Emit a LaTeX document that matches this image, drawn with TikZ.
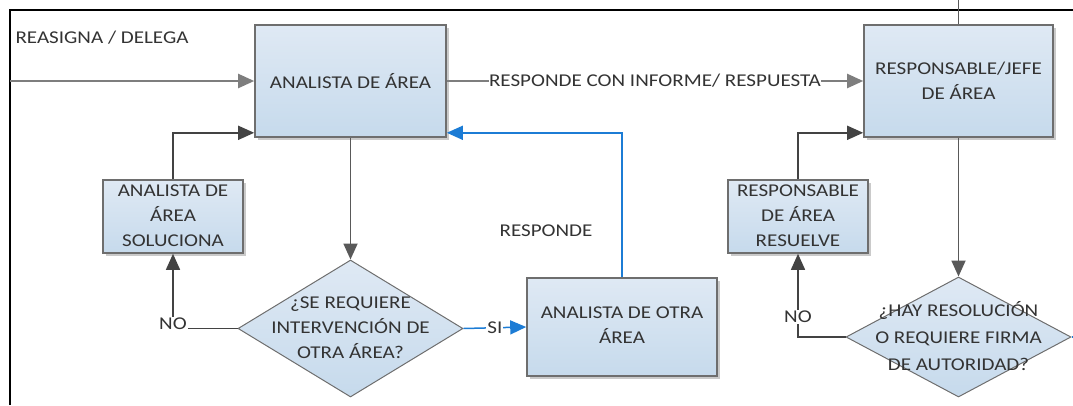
\documentclass[tikz,border=0pt]{standalone}
\usepackage{fontspec}
\setmainfont{Carlito}[FakeStretch=1.17]
\usetikzlibrary{shapes.geometric,arrows.meta,shadows,calc}
\definecolor{txt}{HTML}{333333}
\definecolor{bord}{HTML}{6E6E6E}
\definecolor{ftop}{HTML}{DFE9F4}
\definecolor{fbot}{HTML}{C6DAEC}
\definecolor{dark}{HTML}{434343}
\definecolor{midg}{HTML}{7E7E7E}
\definecolor{blu}{HTML}{1C7CD5}
\begin{document}
\begin{tikzpicture}[x=1pt,y=-1pt,
  every node/.style={text=txt,font=\fontsize{18}{25}\selectfont},
  procbox/.style={rectangle,draw=bord,line width=1.6pt,top color=ftop,bottom color=fbot,
    drop shadow={shadow xshift=2.5pt,shadow yshift=-2.5pt,opacity=0.35,fill=black!60},
    inner sep=0pt,align=center},
  decis/.style={diamond,draw=bord,line width=1pt,top color=ftop,bottom color=fbot,inner sep=0pt},
  lbl/.style={fill=white,inner sep=1pt},
  mainarr/.style={draw=midg,line width=2.2pt,-{Triangle[length=16pt,width=14pt]}},
  darr/.style={draw=dark,line width=1.5pt,-{Triangle[length=16pt,width=14pt]}},
  dline/.style={draw=dark,line width=1.5pt},
  barr/.style={draw=blu,line width=1.5pt,-{Triangle[length=16pt,width=14pt]}},
  frameline/.style={draw=black,line width=2pt}
]
\useasboundingbox (0,0) rectangle (1073,405);
% frame
\coordinate (fbl) at (10,405);
\coordinate (ftl) at (10,10);
\coordinate (ftr) at (1073,10);
\draw[frameline] (fbl) -- (ftl) -- (ftr);

% nodes
\node[procbox,minimum width=191pt,minimum height=112pt] (a) at (350.5,81) {};
\node (at) at (350.5,81) {ANALISTA DE ÁREA};
\node[procbox,minimum width=189pt,minimum height=112pt] (r) at (958.5,81) {};
\node[align=center] (rt) at (958.5,80.5) {RESPONSABLE/JEFE\\DE ÁREA};
\node[procbox,minimum width=140pt,minimum height=73pt] (s1) at (173,216.5) {};
\node[align=center] (s1t) at (173,216) {ANALISTA DE\\ÁREA\\SOLUCIONA};
\node[procbox,minimum width=140pt,minimum height=73pt] (s2) at (798,216.5) {};
\node[align=center] (s2t) at (798,216) {RESPONSABLE\\DE ÁREA\\RESUELVE};
\node[procbox,minimum width=190pt,minimum height=98pt] (o) at (622,327) {};
\node[align=center] (ot) at (622,325) {ANALISTA DE OTRA\\ÁREA};
\node[decis,minimum width=225pt,minimum height=137pt] (d1) at (350.5,328.5) {};
\node[align=center] (d1t) at (350.5,328) {¿SE REQUIERE\\INTERVENCIÓN DE\\OTRA ÁREA?};
\node[decis,minimum width=225pt,minimum height=120pt] (d2) at (958.5,337) {};
\node[align=center,font=\fontsize{18}{27}\selectfont] (d2t) at (958.5,336) {¿HAY RESOLUCIÓN\\O REQUIERE FIRMA\\DE AUTORIDAD?};

% labels
\node[anchor=west] (reas) at (12,38) {REASIGNA / DELEGA};
\node (resp) at (546,231) {RESPONDE};

% connectors
\coordinate (inL) at (10,81);
\draw[mainarr] (inL) -- (a.west);
\draw[mainarr] (a.east) -- node[lbl,inner sep=0.5pt] (rcon) {RESPONDE CON INFORME/ RESPUESTA} (r.west);
\draw[darr] (s1.north) |- ([yshift=5pt]a.south west);
\draw[darr,draw=black!65,line width=1.8pt] (a.south) -- (d1.north);
\draw[darr] (d1.west) -| node[lbl,pos=0.5,yshift=5pt] (no1) {NO} (s1.south);
\draw[barr] (d1.east) -- node[lbl] (si) {SI} (o.west);
\draw[barr] (o.north) |- ([yshift=5pt]a.south east);
\draw[darr,draw=black!65,line width=1.8pt] (r.south) -- (d2.north);
\draw[darr] (d2.west) -| node[lbl,pos=0.62] (no2) {NO} (s2.south);
\draw[darr] (s2.north) |- ([yshift=5pt]r.south west);
\coordinate (rtop) at (958.5,0);
\draw[dline,draw=black!65] (r.north) -- (rtop);
\coordinate (stub) at (1073,337);
\draw[draw=blu,line width=1.5pt] (d2.east) -- (stub);
\end{tikzpicture}
\end{document}
